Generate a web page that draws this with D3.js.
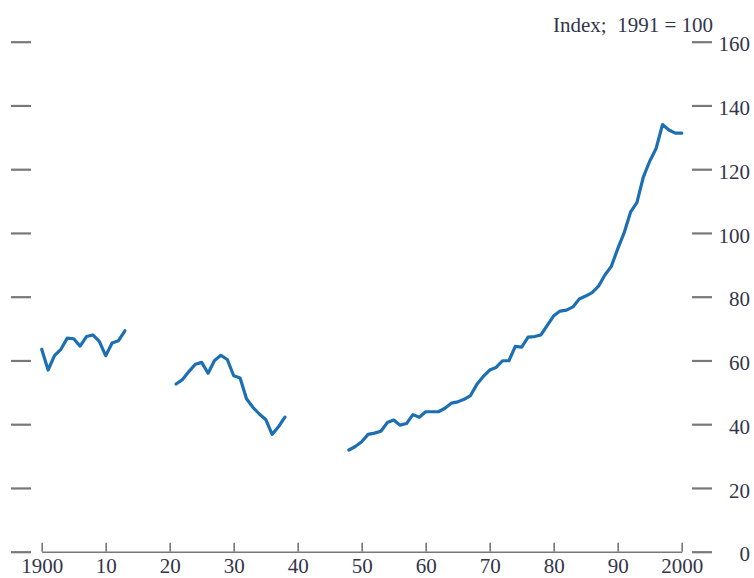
<!DOCTYPE html>
<html>
<head>
<meta charset="utf-8">
<script src="https://cdn.jsdelivr.net/npm/d3@7"></script>
<style>
  html, body { margin: 0; padding: 0; background: #ffffff; }
  svg { display: block; }
  text { font-family: "Liberation Serif", "DejaVu Serif", serif; fill: #34354a; }
</style>
</head>
<body>
<svg id="chart" width="754" height="578"></svg>
<script>
// ---- Data (index, 1991 = 100) ----
const years1 = [1900,1901,1902,1903,1904,1905,1906,1907,1908,1909,1910,1911,1912,1913];
const values1 = [63.5,57,61.5,63.5,67,66.8,64.5,67.5,68,66,61.5,65.5,66.2,69.3];

const years2 = [1921,1922,1923,1924,1925,1926,1927,1928,1929,1930,1931,1932,1933,1934,1935,1936,1937,1938];
const values2 = [52.6,54,56.5,58.8,59.4,56,60,61.6,60.3,55.2,54.5,48,45.3,43.2,41.5,36.8,39.2,42.2];

const years3 = [1948,1949,1950,1951,1952,1953,1954,1955,1956,1957,1958,1959,1960,1961,1962,1963,1964,1965,1966,1967,
                1968,1969,1970,1971,1972,1973,1974,1975,1976,1977,1978,1979,1980,1981,1982,1983,1984,1985,1986,1987,
                1988,1989,1990,1991,1992,1993,1994,1995,1996,1997,1998,1999,2000];
const values3 = [31.9,33.0,34.5,36.8,37.2,37.8,40.5,41.3,39.7,40.2,43.0,42.2,43.9,43.9,43.9,45,46.6,47,47.8,49,
                 52.5,55,57,57.8,59.9,59.9,64.4,64.2,67.3,67.5,68,71,74,75.5,75.8,76.8,79.3,80.2,81.3,83.3,
                 86.8,89.5,95,100,106.5,109.5,117.5,122.5,126.5,134,132.3,131.3,131.3];

const xTickValues = [1900,1910,1920,1930,1940,1950,1960,1970,1980,1990,2000];
const xTickLabels = ["1900","10","20","30","40","50","60","70","80","90","2000"];
const yTickValues = [0,20,40,60,80,100,120,140,160];
const unitLabel = "Index;  1991 = 100";

// ---- Layout ----
const svg = d3.select("#chart");
const x = d3.scaleLinear().domain([1900, 2000]).range([41.7, 681.7]);
const y = d3.scaleLinear().domain([0, 160]).range([551.7, 41.7]);

const tickColor = "#77777c";
const fontStack = '"Liberation Serif", "DejaVu Serif", serif';

// Bottom axis
const xAxis = d3.axisBottom(x)
  .tickValues(xTickValues)
  .tickFormat((d, i) => xTickLabels[i])
  .tickSizeInner(-9)
  .tickSizeOuter(0);
const gx = svg.append("g").attr("transform", `translate(0,${y(0)})`).call(xAxis);
gx.select(".domain").attr("stroke", tickColor).attr("stroke-width", 1.6);
gx.selectAll(".tick line").attr("stroke", tickColor).attr("stroke-width", 1.6);
gx.selectAll(".tick text")
  .attr("y", 21).attr("dy", 0)
  .style("font-size", "21px")
  .style("font-family", fontStack)
  .attr("fill", "#34354a");

// Left ticks (no labels)
const yLeft = d3.axisLeft(y).tickValues(yTickValues).tickSize(20).tickFormat("");
const gl = svg.append("g").attr("transform", "translate(31,0)").call(yLeft);
gl.select(".domain").remove();
gl.selectAll(".tick line").attr("stroke", tickColor).attr("stroke-width", 2.2);

// Right ticks with labels
const yRight = d3.axisRight(y).tickValues(yTickValues).tickSize(20).tickFormat(d3.format("d"));
const gr = svg.append("g").attr("transform", "translate(692,0)").call(yRight);
gr.select(".domain").remove();
gr.selectAll(".tick line").attr("stroke", tickColor).attr("stroke-width", 2.2);
gr.selectAll(".tick text")
  .attr("x", 58).attr("dy", "0.36em").attr("y", 1.5)
  .attr("text-anchor", "end")
  .style("font-size", "21px")
  .style("font-family", fontStack)
  .attr("fill", "#34354a");

// Unit label
svg.append("text")
  .attr("x", 713).attr("y", 32)
  .attr("text-anchor", "end")
  .style("font-size", "21px")
  .style("white-space", "pre")
  .attr("xml:space", "preserve")
  .text(unitLabel);

// Line segments
const line = d3.line().x(d => x(d[0])).y(d => y(d[1]));
const segments = [
  d3.zip(years1, values1),
  d3.zip(years2, values2),
  d3.zip(years3, values3)
];
svg.append("g").selectAll("path.seg").data(segments).join("path")
  .attr("class", "seg")
  .attr("d", line)
  .attr("fill", "none")
  .attr("stroke", "#1c6fb3")
  .attr("stroke-width", 3.2)
  .attr("stroke-linejoin", "round")
  .attr("stroke-linecap", "round");
</script>
</body>
</html>
